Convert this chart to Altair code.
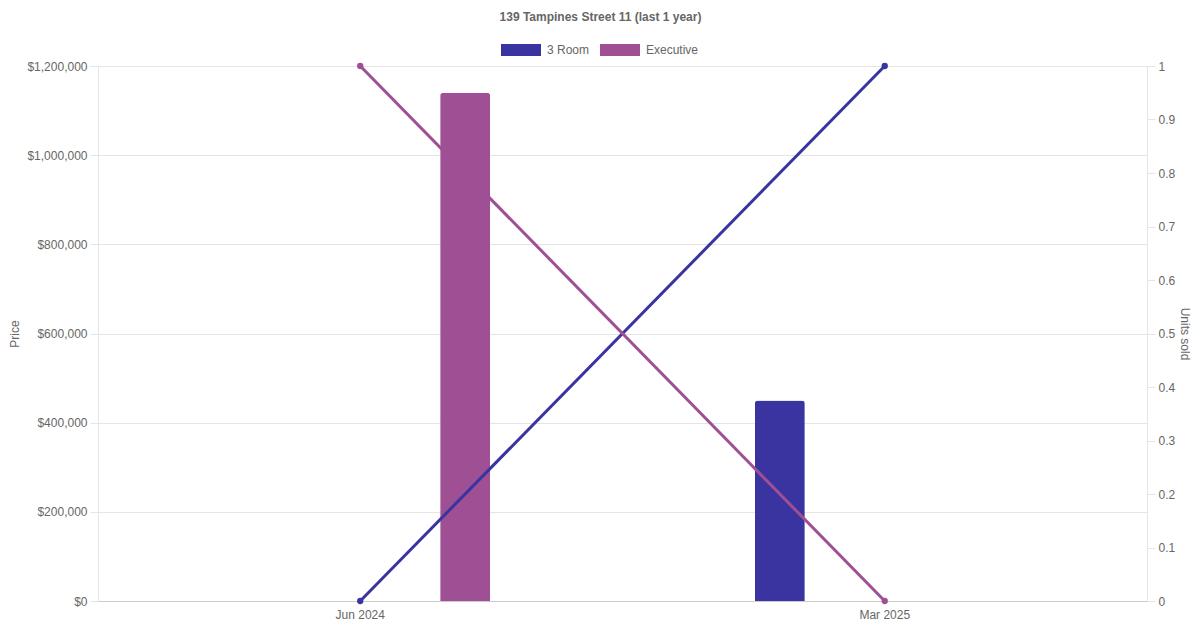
import altair as alt
import pandas as pd

months = ["Jun 2024", "Mar 2025"]
flat_types = ["3 Room", "Executive"]
price_3room = [None, 450000]
price_exec = [1140000, None]
units_3room = [0, 1]
units_exec = [1, 0]
colors = ["#3a34a0", "#9f5095"]

rows = []
for i, m in enumerate(months):
    rows.append({"month": m, "type": "3 Room", "price": price_3room[i], "units": units_3room[i]})
    rows.append({"month": m, "type": "Executive", "price": price_exec[i], "units": units_exec[i]})
df = pd.DataFrame(rows)

FONT = "Liberation Sans"
color_scale = alt.Scale(domain=flat_types, range=colors)
x_enc = alt.X("month:N", sort=months,
              scale=alt.Scale(paddingInner=0, paddingOuter=0),
              axis=alt.Axis(title=None, labelAngle=0, ticks=False, labelPadding=8,
                            domainColor="#cccccc", grid=False))

bars = alt.Chart(df).transform_filter("datum.price != null").mark_bar(
    size=50, cornerRadiusTopLeft=3, cornerRadiusTopRight=3
).encode(
    x=x_enc,
    xOffset=alt.XOffset("type:N", sort=flat_types,
                        scale=alt.Scale(domain=flat_types, paddingInner=0, paddingOuter=0.25)),
    y=alt.Y("price:Q", scale=alt.Scale(domain=[0, 1200000]),
            axis=alt.Axis(title="Price", values=[0, 200000, 400000, 600000, 800000, 1000000, 1200000],
                          format="$,.0f", tickSize=8, tickColor="#e5e5e5", domainColor="#e5e5e5",
                          gridColor="#e5e5e5", titlePadding=5, labelPadding=3)),
    color=alt.Color("type:N", scale=color_scale, sort=flat_types,
                    legend=alt.Legend(title=None, orient="none", direction="horizontal",
                                      legendX=403, legendY=-36,
                                      symbolType="M-1,-0.3L1,-0.3L1,0.3L-1,0.3Z",
                                      symbolSize=1600, symbolStrokeWidth=0, symbolOpacity=1,
                                      labelFontSize=12, labelColor="#666666", labelFont=FONT,
                                      columnPadding=10, labelOffset=6)),
)

lines = alt.Chart(df).mark_line(strokeWidth=3).encode(
    x=x_enc,
    y=alt.Y("units:Q", scale=alt.Scale(domain=[0, 1]),
            axis=alt.Axis(title="Units sold", orient="right",
                          values=[0, 0.1, 0.2, 0.3, 0.4, 0.5, 0.6, 0.7, 0.8, 0.9, 1],
                          format=".1~f",
                          grid=False, tickSize=8, tickColor="#e5e5e5", domainColor="#e5e5e5",
                          titleAngle=90, titlePadding=3, labelPadding=3)),
    color=alt.Color("type:N", scale=color_scale, sort=flat_types, legend=None),
)
points = lines.mark_point(filled=True, size=40, opacity=1)

chart = alt.layer(bars, lines + points).resolve_scale(y="independent").properties(
    width=1049, height=535,
    autosize=alt.AutoSizeParams(type="none"),
    padding={"left": 90, "top": 58, "right": 45, "bottom": 21},
    title=alt.TitleParams("139 Tampines Street 11 (last 1 year)", anchor="middle",
                          fontSize=12, fontWeight="bold", color="#666666", font=FONT, offset=6,
                          dx=-22),
).configure_view(stroke=None).configure_axis(
    labelFont=FONT, titleFont=FONT, labelFontSize=12, titleFontSize=12,
    labelColor="#666666", titleColor="#666666", titleFontWeight="normal"
)

chart.save("out.html", embed_options={"renderer": "svg", "actions": False})
